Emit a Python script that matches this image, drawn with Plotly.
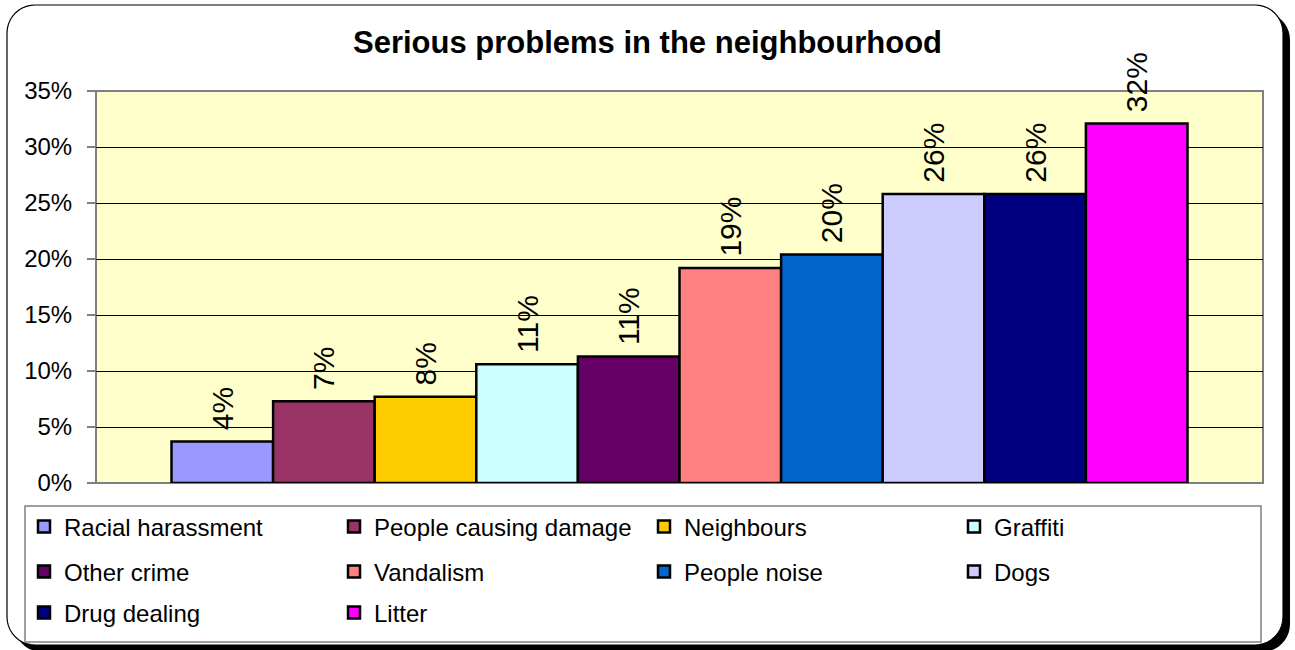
import plotly.graph_objects as go

# ---- data ----
categories = ["Racial harassment", "People causing damage", "Neighbours", "Graffiti",
              "Other crime", "Vandalism", "People noise", "Dogs", "Drug dealing", "Litter"]
values = [0.037, 0.073, 0.077, 0.106, 0.113, 0.192, 0.204, 0.258, 0.258, 0.321]
colors = ["#9999FF", "#993366", "#FFCC00", "#CCFFFF", "#660066",
          "#FF8080", "#0066CC", "#CCCCFF", "#000080", "#FF00FF"]
legend_rows = ["legend", "legend", "legend", "legend",
               "legend2", "legend2", "legend2", "legend2",
               "legend3", "legend3"]
title_text = "Serious problems in the neighbourhood"

# ---- geometry helpers (pixel -> paper) ----
W, H = 1295, 650
PL, PR, PT, PB = 96, 1263, 91, 483


def pp(px, py):
    return ((px - PL) / (PR - PL), (PB - py) / (PB - PT))


def rrect_path(x0, y0, x1, y1, r, n=10):
    import math
    pts = []
    corners = [(x1 - r, y0 + r, -90, 0), (x1 - r, y1 - r, 0, 90),
               (x0 + r, y1 - r, 90, 180), (x0 + r, y0 + r, 180, 270)]
    for cx, cy, a0, a1 in corners:
        for i in range(n + 1):
            a = math.radians(a0 + (a1 - a0) * i / n)
            pts.append(pp(cx + r * math.cos(a), cy + r * math.sin(a)))
    return "M " + " L ".join(f"{x:.5f},{y:.5f}" for x, y in pts) + " Z"


FONT = "Arial, Liberation Sans, sans-serif"

fig = go.Figure()
for name, v, c, lg in zip(categories, values, colors, legend_rows):
    fig.add_trace(go.Bar(
        x=["Serious problems"], y=[v], name=name,
        marker=dict(color=c, line=dict(color="black", width=2.5)),
        text=[f"\u00a0{v * 100:.0f}%"], textposition="outside", textangle=-90,
        textfont=dict(family=FONT, size=30, color="black"),
        constraintext="none", cliponaxis=False, legend=lg,
    ))

shapes = []
# shadow
shapes.append(dict(type="path", xref="paper", yref="paper", layer="below",
                   path=rrect_path(14, 12, 1290, 652, 28),
                   fillcolor="black", line=dict(width=0)))
# chart area
shapes.append(dict(type="path", xref="paper", yref="paper", layer="below",
                   path=rrect_path(7, 5, 1283, 645, 28),
                   fillcolor="white", line=dict(color="black", width=1.2)))
# plot area
shapes.append(dict(type="rect", xref="paper", yref="paper", layer="below",
                   x0=0, x1=1, y0=0, y1=1, fillcolor="#FFFFCC",
                   line=dict(color="#808080", width=2)))
# legend box
lx0, ly0 = pp(25, 506)
lx1, ly1 = pp(1261, 642)
shapes.append(dict(type="rect", xref="paper", yref="paper", layer="below",
                   x0=lx0, x1=lx1, y0=ly1, y1=ly0, fillcolor="white",
                   line=dict(color="#808080", width=1.5)))

leg_common = dict(orientation="h", xanchor="left", yanchor="middle",
                  bgcolor="rgba(0,0,0,0)", borderwidth=0,
                  entrywidth=265, entrywidthmode="pixels",
                  font=dict(family=FONT, size=24, color="black"),
                  traceorder="normal")
lgx = pp(24, 0)[0]

fig.update_layout(
    width=W, height=H,
    margin=dict(l=PL, r=W - PR, t=PT, b=H - PB, pad=0),
    paper_bgcolor="white", plot_bgcolor="rgba(0,0,0,0)",
    barmode="group", bargap=0.1294, bargroupgap=0,
    title=dict(text=f"<b>{title_text}</b>", x=0.5, xref="container", xanchor="center",
               y=1 - 42 / H, yref="container", yanchor="middle",
               font=dict(family=FONT, size=31, color="black")),
    xaxis=dict(showticklabels=False, showgrid=False, zeroline=False, ticks="",
               showline=False),
    yaxis=dict(range=[0, 0.35], dtick=0.05, tickformat=".0%", showgrid=True,
               gridcolor="black", gridwidth=1, zeroline=False, showline=False,
               ticks="outside", ticklen=8, tickcolor="#808080", tickwidth=1.5,
               ticklabelstandoff=10,
               tickfont=dict(family=FONT, size=24, color="black")),
    legend=dict(x=lgx, y=pp(0, 527)[1], **leg_common),
    legend2=dict(x=lgx, y=pp(0, 572)[1], **leg_common),
    legend3=dict(x=lgx, y=pp(0, 613)[1], **leg_common),
    shapes=shapes,
    showlegend=True,
)

fig.write_html(
    "out.html",
    config={"displayModeBar": False},
    post_script="document.body.style.margin='0';document.body.style.overflow='hidden';",
)
